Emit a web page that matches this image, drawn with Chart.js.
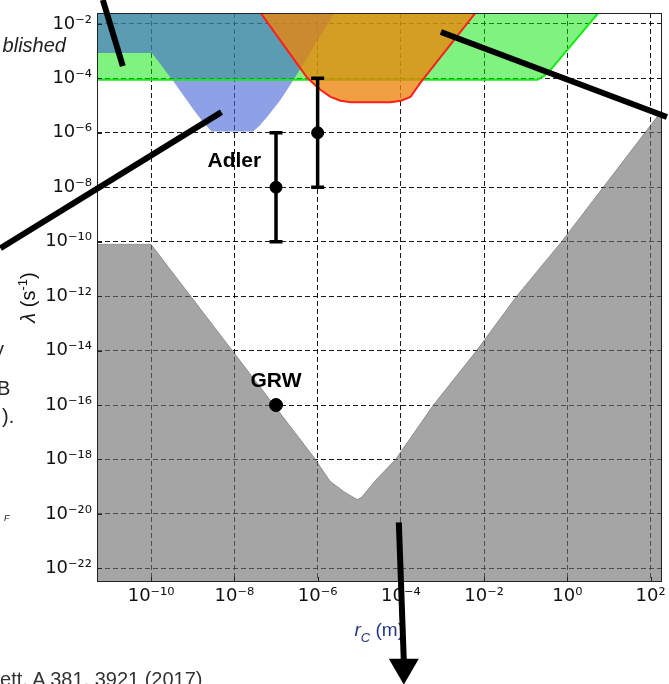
<!DOCTYPE html>
<html>
<head>
<meta charset="utf-8">
<script src="https://cdn.jsdelivr.net/npm/chart.js@4.4.1/dist/chart.umd.min.js"></script>
<style>
  html, body { margin: 0; padding: 0; background: #fff; }
  #wrap { position: relative; width: 669px; height: 684px; overflow: hidden; }
  #wrap canvas { position: absolute; left: 0; top: 0; }
  .frag { position: absolute; font-family: "Liberation Sans", Arial, sans-serif; color: #222; white-space: nowrap; line-height: 1; }
</style>
</head>
<body>
<div id="wrap">
  <canvas id="grafico" width="669" height="684"></canvas>
  <div class="frag" style="right:603px; top:35px; font-size:20px; font-style:italic;">blished</div>
  <div class="frag" style="left:-6px; top:339px; font-size:20px;">y</div>
  <div class="frag" style="left:-3px; top:378px; font-size:20px;">B</div>
  <div class="frag" style="left:2px; top:406px; font-size:20px;">).</div>
  <div class="frag" style="left:4px; top:514px; font-size:9px; font-style:italic;">F</div>
  <div class="frag" style="left:-11px; top:669px; font-size:20px; color:#333;">Lett. A 381, 3921 (2017)</div>
</div>
<script>
// eixos (log10)
const xLogMin = -11.3, xLogMax = 2.26;
const yLogMin = -22.5, yLogMax = -1.6;
const xTickExp = [-10, -8, -6, -4, -2, 0, 2];
const yTickExp = [-22, -20, -18, -16, -14, -12, -10, -8, -6, -4, -2];

// regioes excluidas: log10(rC) e log10(lambda)
const grayLogR = [-11.3, -10.0, -6.1, -5.7, -5.35, -5.05, -4.95, -4.6, -4.13, -3.22, -2.18, -1.22, -0.14, 2.26];
const grayLogL = [-10.1, -10.1, -17.9, -18.8, -19.2, -19.47, -19.4, -18.75, -18.0, -16.0, -14.0, -12.0, -10.0, -5.2];

const greenLogR = [-11.3, -0.72, -0.55, -0.41, 0.74];
const greenLogL = [-4.05, -4.05, -3.9, -3.7, -1.6];

const blueLogR = [-11.3, -9.98, -9.47, -8.98, -8.74, -8.55, -7.55, -7.4, -7.21, -6.89, -6.6, -5.6];
const blueLogL = [-3.07, -3.07, -4.1, -5.15, -5.63, -5.95, -5.95, -5.75, -5.41, -4.79, -4.11, -1.6];

const orangeLogR = [-7.37, -6.25, -5.95, -5.69, -5.45, -5.2, -4.25, -4.0, -3.77, -3.53, -2.21];
const orangeLogL = [-1.6, -3.98, -4.4, -4.68, -4.82, -4.88, -4.88, -4.82, -4.68, -4.16, -1.6];

// Adler (com barras) e GRW
const adlerR = [1e-7, 1e-6];
const adlerL = [1e-8, 1e-6];
const adlerLo = [1e-10, 1e-8];
const adlerHi = [1e-6, 1e-4];
const grwR = [1e-7];
const grwL = [1e-16];

const labelText = ['Adler', 'GRW'];
const labelR = [1e-8, 1e-7];
const labelL = [5.5e-8, 4.6e-16];

// setas do slide (log10 rC, log10 lambda)
const slideLines = [
  [[-11.16, -1.12], [-10.68, -3.55]],
  [[-13.62, -10.24], [-8.31, -5.24]],
  [[-3.04, -2.3], [2.39, -5.42]]
];
const slideArrow = [[-4.05, -20.31], [-3.93, -25.32], [-3.93, -26.27]];

const sup = {'-': '⁻', '0': '⁰', '1': '¹', '2': '²', '3': '³', '4': '⁴', '5': '⁵', '6': '⁶', '7': '⁷', '8': '⁸', '9': '⁹'};
function rotulo(v) {
  const e = Math.round(Math.log10(v));
  return '10' + String(e).split('').map(c => sup[c]).join('');
}
function pts(lr, ll) {
  return lr.map((v, i) => ({x: Math.pow(10, v), y: Math.pow(10, ll[i])}));
}
function pares(rs, ls) {
  return rs.map((v, i) => ({x: v, y: ls[i]}));
}

const fonte = '"Liberation Sans", Arial, sans-serif';

const decoracao = {
  id: 'decoracao',
  afterDatasetsDraw(chart) {
    const ctx = chart.ctx, sx = chart.scales.x, sy = chart.scales.y;
    ctx.save();
    ctx.strokeStyle = '#000';
    ctx.lineWidth = 3.5;
    adlerR.forEach((r, i) => {
      const px = sx.getPixelForValue(r);
      const y0 = sy.getPixelForValue(adlerLo[i]);
      const y1 = sy.getPixelForValue(adlerHi[i]);
      ctx.beginPath();
      ctx.moveTo(px, y0); ctx.lineTo(px, y1);
      ctx.moveTo(px - 6.5, y0); ctx.lineTo(px + 6.5, y0);
      ctx.moveTo(px - 6.5, y1); ctx.lineTo(px + 6.5, y1);
      ctx.stroke();
    });
    ctx.fillStyle = '#000';
    ctx.font = 'bold 21px ' + fonte;
    ctx.textAlign = 'center';
    ctx.textBaseline = 'alphabetic';
    labelText.forEach((t, i) => {
      ctx.fillText(t, sx.getPixelForValue(labelR[i]), sy.getPixelForValue(labelL[i]));
    });
    ctx.restore();
  },
  afterDraw(chart) {
    const ctx = chart.ctx, sx = chart.scales.x, sy = chart.scales.y, a = chart.chartArea;
    ctx.save();
    // moldura
    ctx.strokeStyle = '#222';
    ctx.lineWidth = 1;
    ctx.strokeRect(Math.round(a.left) + 0.5, Math.round(a.top) + 0.5, Math.round(a.right - a.left) - 1, Math.round(a.bottom - a.top) - 1);
    ctx.beginPath();
    sx.ticks.forEach(t => {
      const p = Math.round(sx.getPixelForValue(t.value)) + 0.5;
      ctx.moveTo(p, a.bottom); ctx.lineTo(p, a.bottom - 5);
    });
    sy.ticks.forEach(t => {
      const p = Math.round(sy.getPixelForValue(t.value)) + 0.5;
      ctx.moveTo(a.left, p); ctx.lineTo(a.left + 5, p);
    });
    ctx.stroke();

    // titulo x: r_C (m)
    const cx = (a.left + a.right) / 2;
    ctx.fillStyle = '#263a80';
    ctx.textBaseline = 'alphabetic';
    ctx.textAlign = 'left';
    const partesX = [['r', 'italic 19px ', 0], ['C', 'italic 13px ', 6], [' (m)', '19px ', 0]];
    let w = 0;
    partesX.forEach(p => { ctx.font = p[1] + fonte; w += ctx.measureText(p[0]).width; });
    let px = cx - w / 2;
    partesX.forEach(p => {
      ctx.font = p[1] + fonte;
      ctx.fillText(p[0], px, 636 + p[2]);
      px += ctx.measureText(p[0]).width;
    });

    // titulo y: lambda (s^-1)
    ctx.save();
    ctx.translate(28, (a.top + a.bottom) / 2);
    ctx.rotate(-Math.PI / 2);
    ctx.fillStyle = '#111';
    const partesY = [['λ', 'italic 20px ', 0], [' (s', '20px ', 0], ['-1', '13px ', -8], [')', '20px ', 0]];
    w = 0;
    partesY.forEach(p => { ctx.font = p[1] + fonte; w += ctx.measureText(p[0]).width; });
    px = -w / 2;
    partesY.forEach(p => {
      ctx.font = p[1] + fonte;
      ctx.fillText(p[0], px, 7 + p[2]);
      px += ctx.measureText(p[0]).width;
    });
    ctx.restore();

    // setas do slide
    const P = q => [sx.getPixelForValue(Math.pow(10, q[0])), sy.getPixelForValue(Math.pow(10, q[1]))];
    ctx.strokeStyle = '#000';
    ctx.fillStyle = '#000';
    ctx.lineWidth = 6;
    ctx.lineCap = 'butt';
    slideLines.forEach(l => {
      const p0 = P(l[0]), p1 = P(l[1]);
      ctx.beginPath(); ctx.moveTo(p0[0], p0[1]); ctx.lineTo(p1[0], p1[1]); ctx.stroke();
    });
    const s0 = P(slideArrow[0]), s1 = P(slideArrow[1]), s2 = P(slideArrow[2]);
    ctx.beginPath(); ctx.moveTo(s0[0], s0[1]); ctx.lineTo(s1[0], s1[1] + 2); ctx.stroke();
    ctx.beginPath();
    ctx.moveTo(s1[0] - 15, s1[1]); ctx.lineTo(s1[0] + 15, s1[1]); ctx.lineTo(s2[0], s2[1]);
    ctx.closePath(); ctx.fill();
    ctx.restore();
  }
};

function eixo(tipo, lo, hi, exps, pos) {
  return {
    type: 'logarithmic',
    position: pos,
    min: Math.pow(10, lo),
    max: Math.pow(10, hi),
    afterBuildTicks: s => { s.ticks = exps.map(e => ({value: Math.pow(10, e)})); },
    afterFit: s => {
      if (tipo === 'x') s.height = 102; else s.width = 97;
      s.paddingLeft = 0; s.paddingRight = 0; s.paddingTop = 0; s.paddingBottom = 0;
    },
    grid: {color: 'rgba(0,0,0,0.9)', lineWidth: 1, drawTicks: false},
    border: {display: false, dash: [5, 3]},
    ticks: {
      autoSkip: false,
      maxRotation: 0,
      padding: tipo === 'x' ? 4 : 5,
      color: '#111',
      font: {family: '"DejaVu Sans", sans-serif', size: 18},
      callback: v => rotulo(v)
    }
  };
}

const ctx = document.getElementById('grafico').getContext('2d');
new Chart(ctx, {
  type: 'line',
  data: {
    datasets: [
      {label: 'pontos Adler', data: pares(adlerR, adlerL), showLine: false, pointRadius: 6, pointBackgroundColor: '#000', pointBorderColor: '#000', order: 0},
      {label: 'GRW', data: pares(grwR, grwL), showLine: false, pointRadius: 6.5, pointBackgroundColor: '#000', pointBorderColor: '#000', order: 0},
      {label: 'laranja', data: pts(orangeLogR, orangeLogL), fill: 'end', backgroundColor: 'rgba(236,133,10,0.78)', borderColor: 'rgb(255,30,30)', borderWidth: 2, pointRadius: 0, order: 1},
      {label: 'verde borda', data: pts(greenLogR, greenLogL), fill: false, borderColor: 'rgb(20,235,20)', borderWidth: 2, pointRadius: 0, order: 2},
      {label: 'azul', data: pts(blueLogR, blueLogL), fill: 'end', backgroundColor: 'rgba(66,99,214,0.6)', borderWidth: 0, borderColor: 'rgba(0,0,0,0)', pointRadius: 0, order: 3},
      {label: 'verde', data: pts(greenLogR, greenLogL), fill: 'end', backgroundColor: 'rgba(0,230,0,0.5)', borderWidth: 0, borderColor: 'rgba(0,0,0,0)', pointRadius: 0, order: 4},
      {label: 'cinza', data: pts(grayLogR, grayLogL), fill: 'start', backgroundColor: 'rgba(110,110,110,0.62)', borderColor: 'rgba(90,90,90,0.5)', borderWidth: 1, pointRadius: 0, order: 5}
    ]
  },
  options: {
    responsive: false,
    animation: false,
    devicePixelRatio: 1,
    layout: {padding: {top: 13, right: 6, left: 0, bottom: 0}},
    plugins: {legend: {display: false}, tooltip: {enabled: false}},
    scales: {
      x: eixo('x', xLogMin, xLogMax, xTickExp, 'bottom'),
      y: eixo('y', yLogMin, yLogMax, yTickExp, 'left')
    }
  },
  plugins: [decoracao]
});
</script>
</body>
</html>
